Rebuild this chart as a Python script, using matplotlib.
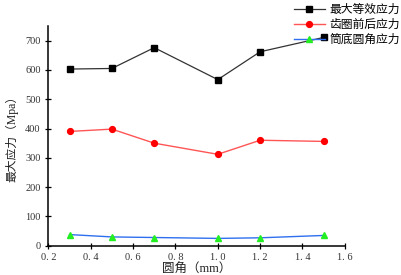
import matplotlib
matplotlib.use('Agg')
import matplotlib.pyplot as plt

plt.rcParams['font.family'] = ['Liberation Serif', 'Noto Sans CJK SC']

# 圆角 (mm)
yuanjiao = [0.3, 0.5, 0.7, 1.0, 1.2, 1.5]
# 应力 (Mpa)
zuida = [603, 605, 676, 567, 662, 711]
chiquan = [390, 398, 350, 312, 360, 356]
tongdi = [38, 30, 28, 25, 27, 35]

xticks = [0.2, 0.4, 0.6, 0.8, 1.0, 1.2, 1.4, 1.6]
yticks = [0, 100, 200, 300, 400, 500, 600, 700]

fig = plt.figure(figsize=(4.01, 2.75), dpi=100)
ax = fig.add_axes([0.1205, 0.1065, 0.7395, 0.799])

ax.plot(yuanjiao, zuida, color='#333333', lw=0.9, marker='s', ms=3.8,
        mfc='black', mec='black', label='最大等效应力')
ax.plot(yuanjiao, chiquan, color='#ff5555', lw=1.0, marker='o', ms=4.2,
        mfc='red', mec='red', label='齿圈前后应力')
ax.plot(yuanjiao, tongdi, color='#2f6fef', lw=1.0, marker='^', ms=4.5,
        mfc='#22ee22', mec='#22ee22', label='筒底圆角应力')

ax.set_xlim(0.2, 1.6)
ax.set_ylim(0, 750)
ax.set_xticks(xticks)
ax.set_yticks(yticks)
ax.set_xticklabels([('%.1f' % v).replace('.', '. ') for v in xticks])
ax.tick_params(direction='inout', length=4, width=0.9, labelsize=7.5,
               colors='black', labelcolor='#333333')
ax.spines['top'].set_visible(False)
ax.spines['right'].set_visible(False)
for s in ['left', 'bottom']:
    ax.spines[s].set_linewidth(1.1)

ax.set_xlabel('圆角（mm）', fontsize=9, labelpad=1, color='#222222')
ax.set_ylabel('最大应力（Mpa）', fontsize=8.5, labelpad=5, color='#222222')

fig.legend(loc='upper right', bbox_to_anchor=(1.015, 1.01), frameon=False,
           fontsize=8.5, handlelength=2.6, handletextpad=0.4,
           labelspacing=0.25, borderaxespad=0.2)

fig.savefig('out.png', dpi=100)
